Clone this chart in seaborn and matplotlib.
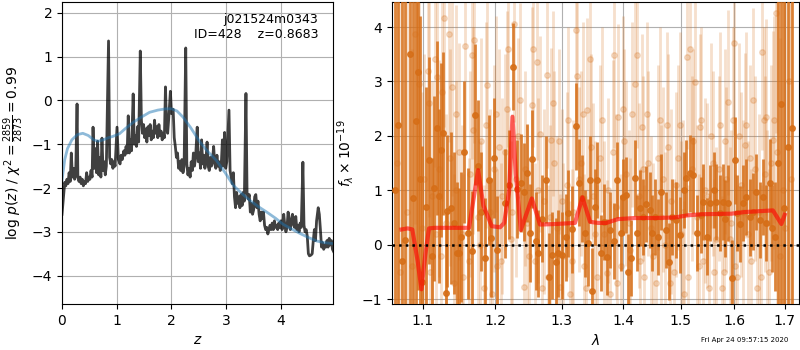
import matplotlib
matplotlib.use("Agg")
import matplotlib.pyplot as plt
import matplotlib.ticker as mticker
import seaborn as sns
import pandas as pd

# ---------------- left panel: log p(z) ----------------
z_grid = [0.00, 0.02, 0.04, 0.05, 0.07, 0.09, 0.11, 0.13, 0.15, 0.17, 0.19, 0.21, 0.23, 0.25, 0.275,
          0.29, 0.31, 0.33, 0.35, 0.37, 0.39, 0.41, 0.43, 0.45, 0.47, 0.49, 0.51, 0.53, 0.55, 0.567,
          0.59, 0.61, 0.63, 0.65, 0.67, 0.69, 0.71, 0.73, 0.75, 0.77, 0.79, 0.81, 0.85, 0.87, 0.89,
          0.91, 0.93, 0.95, 0.97, 1.005, 1.03, 1.06, 1.08, 1.10, 1.13, 1.15, 1.17, 1.19, 1.21, 1.23,
          1.25, 1.27, 1.30, 1.32, 1.34, 1.36, 1.38, 1.40, 1.43, 1.45, 1.47, 1.49, 1.51, 1.53, 1.55,
          1.57, 1.59, 1.61, 1.63, 1.65, 1.67, 1.69, 1.71, 1.73, 1.75, 1.77, 1.79, 1.81, 1.83, 1.85,
          1.87, 1.89, 1.91, 1.93, 1.95, 1.98, 2.00, 2.03, 2.05, 2.07, 2.09, 2.11, 2.13, 2.15, 2.17,
          2.19, 2.21, 2.23, 2.26, 2.28, 2.30, 2.32, 2.34, 2.36, 2.38, 2.40, 2.42, 2.44, 2.47, 2.49,
          2.51, 2.53, 2.55, 2.57, 2.59, 2.61, 2.63, 2.65, 2.67, 2.69, 2.71, 2.73, 2.75, 2.77, 2.79,
          2.81, 2.83, 2.85, 2.87, 2.89, 2.91, 2.93, 2.95, 2.97, 2.99, 3.01, 3.05, 3.07, 3.09, 3.11,
          3.13, 3.15, 3.17, 3.19, 3.21, 3.23, 3.25, 3.27, 3.29, 3.31, 3.33, 3.36, 3.38, 3.40, 3.42,
          3.44, 3.46, 3.48, 3.50, 3.52, 3.54, 3.56, 3.58, 3.60, 3.62, 3.64, 3.66, 3.68, 3.70, 3.72,
          3.74, 3.76, 3.78, 3.80, 3.82, 3.84, 3.86, 3.88, 3.90, 3.92, 3.94, 3.96, 3.98, 4.00, 4.02,
          4.05, 4.07, 4.09, 4.11, 4.13, 4.15, 4.17, 4.19, 4.21, 4.23, 4.25, 4.27, 4.29, 4.31, 4.33,
          4.35, 4.37, 4.40, 4.42, 4.44, 4.46, 4.48, 4.50, 4.52, 4.55, 4.57, 4.59, 4.61, 4.63, 4.65,
          4.68, 4.70, 4.72, 4.74, 4.76, 4.78, 4.80, 4.82, 4.84, 4.86, 4.88, 4.90, 4.92, 4.94, 4.96]
logpz = [-2.60, -2.30, -2.00, -1.87, -1.95, -1.80, -1.90, -1.65, -1.85, -1.20, -1.75, -1.55, -1.80, -1.70, -0.08,
         -1.75, -1.85, -1.75, -1.90, -1.80, -1.95, -1.85, -1.90, -1.65, -1.85, -1.75, -1.80, -1.60, -1.75, -0.61,
         -1.55, -1.10, -1.65, -0.93, -1.70, -1.30, -1.75, -0.86, -1.60, -1.40, -1.70, -1.50, 1.36, -1.30, -1.45,
         -1.35, -1.55, -1.40, -1.50, -0.61, -1.35, -1.45, -1.25, -1.35, -1.15, -1.25, -1.05, -1.20, -0.35, -1.20,
         -0.90, -1.15, 0.15, -1.00, -0.80, -1.05, -0.60, -0.95, 1.13, -0.45, -0.75, -0.55, -0.85, -0.65, -0.95,
         -0.60, -0.80, -0.55, -0.90, -0.70, -0.85, -0.45, -0.75, -0.60, -0.85, -0.55, -0.80, -0.70, -0.90, -0.75,
         -0.85, 0.31, -0.60, -0.75, -0.40, 0.21, -0.30, -0.20, -0.85, -1.05, -1.30, -1.20, -1.55, -1.40, -1.60,
         -1.35, -1.65, -1.50, 1.20, -1.45, -1.70, -1.55, -1.75, -1.40, -1.60, -1.20, -1.50, -1.30, -0.61, -1.40,
         -1.20, -1.55, -0.90, -1.45, -1.25, -1.55, -1.35, -0.95, -1.50, -1.60, -1.30, -1.50, -1.35, -1.05, -1.45,
         -1.55, -1.25, -1.50, -1.40, -1.60, -1.45, -0.90, -1.50, -0.73, -1.55, -1.40, -0.22, -1.60, -1.75, -1.90,
         -1.65, -2.20, -2.45, -2.10, -2.35, -2.20, -2.45, -2.15, -2.40, -2.10, -2.30, 0.16, -2.10, -2.25, -2.15,
         -2.55, -2.35, -2.60, -2.50, -2.20, -2.15, -2.45, -2.30, -2.60, -2.75, -2.55, -2.70, -2.55, -2.85, -2.95,
         -2.90, -3.05, -2.95, -2.85, -2.95, -2.80, -2.95, -2.75, -2.90, -2.85, -2.95, -2.80, -2.90, -2.75, -2.95,
         -2.60, -2.85, -3.00, -2.90, -2.55, -2.80, -2.95, -2.70, -2.60, -2.85, -2.90, -2.65, -2.95, -2.85, -3.00,
         -2.80, -2.90, -1.41, -2.85, -3.00, -2.95, -3.10, -3.50, -3.55, -3.53, -3.50, -3.20, -2.95, -3.20, -2.75,
         -2.45, -2.60, -2.95, -3.35, -3.25, -3.40, -3.30, -3.35, -3.20, -3.35, -3.15, -3.30, -3.20, -3.40, -3.45]

z_prior = [0.00, 0.05, 0.10, 0.18, 0.28, 0.38, 0.48, 0.58, 0.66, 0.75, 0.85, 0.93, 1.05, 1.15, 1.30,
           1.45, 1.60, 1.75, 1.90, 2.00, 2.10, 2.21, 2.35, 2.52, 2.65, 2.82, 2.98, 3.13, 3.28, 3.43,
           3.58, 3.74, 3.90, 4.04, 4.20, 4.35, 4.50, 4.65, 4.80, 4.96]
logp_prior = [-1.83, -1.35, -1.10, -0.90, -0.78, -0.75, -0.80, -0.90, -0.93, -0.90, -0.85, -0.82, -0.76, -0.65, -0.50,
              -0.38, -0.27, -0.22, -0.19, -0.19, -0.24, -0.38, -0.62, -0.95, -1.15, -1.37, -1.65, -1.94, -2.12, -2.28,
              -2.42, -2.55, -2.69, -2.83, -2.94, -3.04, -3.13, -3.21, -3.25, -3.27]

# ---------------- right panel: spectrum ----------------
wave_dark = [1.0640, 1.0680, 1.0720, 1.0765, 1.0824, 1.0869, 1.0903, 1.0929, 1.0955, 1.0982,
             1.1040, 1.1080, 1.1114, 1.1146, 1.1181, 1.1210, 1.1235, 1.1268, 1.1303, 1.1326,
             1.1371, 1.1417, 1.1463, 1.1486, 1.1522, 1.1564, 1.1615, 1.1671, 1.1718, 1.1755,
             1.1802, 1.1850, 1.1907, 1.1944, 1.1980, 1.2028, 1.2144, 1.2202, 1.2265, 1.2315,
             1.2379, 1.2429, 1.2464, 1.2514, 1.2549, 1.2600, 1.2639, 1.2691, 1.2757, 1.2803,
             1.2845, 1.2911, 1.2946, 1.3000, 1.3062, 1.3103, 1.3166, 1.3225, 1.3273, 1.3316,
             1.3368, 1.3411, 1.3450, 1.3487, 1.3530, 1.3557, 1.3633, 1.3677, 1.3732, 1.3772,
             1.3843, 1.3898, 1.3955, 1.3993, 1.4038, 1.4078, 1.4133, 1.4191, 1.4235, 1.4277,
             1.4334, 1.4391, 1.4449, 1.4494, 1.4536, 1.4594, 1.4652, 1.4730, 1.4783, 1.4841,
             1.4918, 1.4980, 1.5058, 1.5099, 1.5160, 1.5221, 1.5295, 1.5363, 1.5411, 1.5491,
             1.5535, 1.5616, 1.5660, 1.5722, 1.5786, 1.5817, 1.5881, 1.5958, 1.6009, 1.6061,
             1.6105, 1.6170, 1.6236, 1.6301, 1.6365, 1.6432, 1.6498, 1.6563, 1.6631, 1.6697,
             1.6735, 1.6797, 1.6860, 1.6918, 1.6986, 1.7060, 1.7150]
flux_dark = [1.00, 2.20, -0.30, 0.09, 3.51, 0.86, 2.27, 3.17, 1.20, -0.68,
             0.70, 1.55, -0.21, 1.04, 2.14, 0.90, 1.74, 2.05, -0.89, 0.62,
             0.67, 0.40, -0.15, -0.15, 0.14, 1.70, 0.21, -0.11, 2.39, 1.45,
             0.61, -0.25, 1.19, 0.13, 1.59, -0.10, 0.76, 1.10, 3.27, 1.02,
             1.14, 0.97, 1.31, 0.21, 1.57, 0.06, -0.16, 0.48, 1.19, -0.59,
             -0.19, -0.31, -0.16, -0.19, 0.14, 0.58, 0.28, 2.18, 1.14, 0.85,
             0.21, 0.04, 1.19, -0.86, 0.70, 1.19, -0.16, 0.42, -0.22, 0.27,
             0.07, 1.19, 0.21, 0.88, 0.91, -0.50, -0.25, 1.22, 0.21, 0.67,
             0.51, 0.75, 0.64, 0.21, 0.51, 0.14, 0.97, 0.27, -0.31, 0.51,
             0.45, 0.18, 1.00, 1.22, 1.31, 1.28, 0.21, 0.54, 0.79, 0.15,
             0.76, 1.00, 0.79, 0.58, 0.79, 0.48, 0.76, -0.62, 1.55, 0.58,
             0.38, 0.77, 0.88, 0.50, 0.61, 0.97, 0.45, 0.88, 0.40, 1.14,
             0.30, 0.15, 1.50, 2.58, 0.67, 1.80, 2.14]
err_dark = [6.0, 6.0, 5.5, 5.0, 5.0, 4.5, 4.5, 4.0, 3.0, 2.5,
            2.2, 1.9, 1.8, 1.7, 1.6, 1.6, 1.6, 1.5, 1.5, 1.4,
            1.4, 1.3, 1.3, 1.2, 1.2, 1.3, 1.2, 1.1, 1.3, 1.2,
            1.1, 1.1, 1.2, 1.1, 1.1, 1.0, 1.0, 1.0, 0.8, 0.9,
            0.9, 0.9, 0.9, 0.9, 0.9, 0.9, 0.8, 0.8, 0.8, 0.8,
            0.8, 0.8, 0.8, 0.8, 0.8, 0.8, 0.8, 0.8, 0.8, 0.8,
            0.8, 0.8, 0.8, 0.8, 0.7, 0.7, 0.7, 0.7, 0.7, 0.7,
            0.7, 0.7, 0.7, 0.7, 0.7, 0.7, 0.7, 0.7, 0.7, 0.7,
            0.7, 0.7, 0.7, 0.7, 0.7, 0.7, 0.7, 0.7, 0.7, 0.7,
            0.7, 0.7, 0.7, 0.7, 0.7, 0.7, 0.7, 0.7, 0.7, 0.7,
            0.7, 0.7, 0.7, 0.7, 0.7, 0.7, 0.7, 0.7, 0.8, 0.7,
            0.7, 0.7, 0.7, 0.7, 0.7, 0.7, 0.7, 0.7, 0.7, 0.8,
            0.8, 1.0, 4.0, 5.0, 5.0, 6.0, 6.0]

wave_light = [1.0660, 1.0700, 1.0790, 1.0860, 1.0899, 1.0942, 1.0985, 1.1020, 1.1061, 1.1100,
              1.1120, 1.1155, 1.1187, 1.1220, 1.1240, 1.1276, 1.1310, 1.1344, 1.1390, 1.1420,
              1.1450, 1.1481, 1.1530, 1.1574, 1.1620, 1.1640, 1.1667, 1.1704, 1.1750, 1.1800,
              1.1840, 1.1888, 1.1930, 1.1980, 1.2030, 1.2061, 1.2100, 1.2140, 1.2192, 1.2230,
              1.2276, 1.2310, 1.2369, 1.2420, 1.2470, 1.2540, 1.2564, 1.2590, 1.2615, 1.2666,
              1.2720, 1.2768, 1.2790, 1.2834, 1.2880, 1.2920, 1.2973, 1.3020, 1.3080, 1.3130,
              1.3180, 1.3220, 1.3246, 1.3300, 1.3350, 1.3405, 1.3449, 1.3500, 1.3560, 1.3620,
              1.3680, 1.3724, 1.3780, 1.3846, 1.3880, 1.3918, 1.3960, 1.3992, 1.4050, 1.4120,
              1.4202, 1.4231, 1.4260, 1.4317, 1.4360, 1.4420, 1.4480, 1.4560, 1.4629, 1.4680,
              1.4720, 1.4777, 1.4830, 1.4880, 1.4950, 1.5010, 1.5060, 1.5112, 1.5167, 1.5200,
              1.5258, 1.5300, 1.5350, 1.5400, 1.5450, 1.5520, 1.5600, 1.5650, 1.5725, 1.5800,
              1.5850, 1.5883, 1.5940, 1.5998, 1.6050, 1.6120, 1.6204, 1.6260, 1.6300, 1.6366,
              1.6440, 1.6480, 1.6551, 1.6600, 1.6630, 1.6690, 1.6762, 1.6816, 1.6850, 1.6900,
              1.6960, 1.7000, 1.7080, 1.7120,
              1.1080, 1.1170, 1.1260, 1.1360, 1.1440, 1.1550, 1.1690, 1.1780, 1.1870, 1.1960,
              1.2010, 1.2080, 1.2170, 1.2250, 1.2340, 1.2440, 1.2500, 1.2640, 1.2700, 1.2810,
              1.2860, 1.2950, 1.3000, 1.3100, 1.3160, 1.3270, 1.3330, 1.3380, 1.3470, 1.3530,
              1.3650, 1.3750, 1.3820, 1.3900, 1.4010, 1.4090, 1.4150, 1.4290, 1.4340, 1.4400,
              1.4500, 1.4600, 1.4650, 1.4750, 1.4800, 1.4910, 1.4990, 1.5040, 1.5140, 1.5230,
              1.5330, 1.5380, 1.5480, 1.5550, 1.5620, 1.5700, 1.5760, 1.5830, 1.5910, 1.5970,
              1.6020, 1.6090, 1.6160, 1.6230, 1.6330, 1.6400, 1.6520, 1.6580, 1.6650, 1.6720,
              1.6790]
flux_light = [1.50, -0.50, 0.60, -0.40, 3.88, 2.96, 0.30, 1.20, 3.19, -0.50,
              0.90, 3.42, 3.08, 1.40, -0.20, 4.17, 0.40, 3.88, 2.89, -0.70,
              1.00, 1.71, 0.20, 3.66, -0.30, 1.30, 3.48, 3.76, 0.50, 1.90,
              -0.80, 2.93, 0.60, 1.40, -0.40, 1.80, 0.90, 1.70, 3.60, 0.10,
              4.06, 1.20, 2.65, -0.77, 0.40, 2.56, 3.60, -0.30, 3.36, 2.04,
              0.80, 3.11, -0.60, 1.92, 1.50, 0.30, -0.77, -0.20, 1.10, -0.90,
              0.60, 3.95, 3.10, 1.50, -0.40, 2.47, 3.42, 0.90, -0.60, 1.60,
              0.20, -0.52, -0.90, 3.48, 0.70, 2.35, -0.40, 2.50, 1.30, -0.10,
              2.96, 3.48, 0.90, 2.17, -0.60, 1.50, 0.30, -0.70, 2.30, 1.20,
              0.00, 1.80, 0.80, -0.50, 1.60, 0.20, -0.90, 3.45, 3.60, 1.40,
              2.99, 0.50, 2.17, -0.30, 1.00, -0.80, 1.50, 0.10, 2.20, -0.50,
              1.20, 2.62, 0.40, 3.71, -0.60, 1.10, 1.83, 0.20, 1.60, 2.65,
              -0.80, 0.60, 3.54, 1.30, 2.35, -0.50, 1.92, 4.25, 1.70, -0.20,
              1.00, 0.30, 3.00, 1.20,
              2.60, 0.20, 2.80, 1.60, 2.40, -0.60, 2.10, 0.00, 2.20, -0.90,
              2.40, -0.30, 2.50, 0.60, 2.00, 1.40, -0.20, 1.00, -0.80, 0.50,
              2.60, 1.90, 0.80, 2.30, -0.30, 1.20, 2.40, -0.80, 1.80, 0.20,
              2.30, 1.00, 1.70, -0.70, 1.90, 0.40, 2.40, -0.30, 1.40, 2.40,
              -0.20, 1.60, 0.50, 2.20, -0.70, 1.10, 2.20, 0.60, -0.60, 1.90,
              -0.40, 2.30, 0.90, 2.00, -0.50, 1.40, -0.80, 1.90, 0.10, 2.30,
              -0.40, 2.00, 0.60, 2.20, -0.30, 1.40, -0.60, 2.30, 0.40, 1.50,
              2.30]
err_light = [5.0, 5.0, 4.5, 4.0, 3.5, 3.0, 2.5, 2.3, 2.2, 2.1,
             2.1, 2.0, 2.0, 2.0, 2.0, 2.0, 2.0, 2.0, 2.0, 2.0,
             2.0, 2.0, 2.0, 2.0, 1.9, 1.9, 1.9, 1.9, 1.9, 1.9,
             1.9, 1.9, 1.9, 1.9, 1.8, 1.8, 1.8, 1.8, 1.8, 1.8,
             1.8, 1.8, 1.8, 1.8, 1.8, 1.8, 1.8, 1.8, 1.8, 1.8,
             1.7, 1.7, 1.7, 1.7, 1.7, 1.7, 1.7, 1.7, 1.7, 1.7,
             1.7, 1.7, 1.7, 1.7, 1.7, 1.7, 1.7, 1.7, 1.7, 1.7,
             1.7, 1.7, 1.7, 1.7, 1.7, 1.7, 1.7, 1.7, 1.7, 1.7,
             1.7, 1.7, 1.7, 1.7, 1.7, 1.7, 1.7, 1.7, 1.7, 1.7,
             1.7, 1.7, 1.7, 1.7, 1.7, 1.7, 1.7, 1.7, 1.7, 1.7,
             1.7, 1.7, 1.7, 1.7, 1.7, 1.7, 1.7, 1.7, 1.7, 1.7,
             1.7, 1.7, 1.7, 1.7, 1.7, 1.7, 1.7, 1.7, 1.7, 1.7,
             1.8, 1.8, 1.8, 1.8, 1.8, 1.9, 2.0, 2.2, 3.0, 4.0,
             5.0, 5.0, 6.0, 6.0,
             2.1, 2.0, 2.0, 2.0, 2.0, 1.9, 1.9, 1.9, 1.9, 1.9,
             1.8, 1.8, 1.8, 1.8, 1.8, 1.8, 1.8, 1.7, 1.7, 1.7,
             1.7, 1.7, 1.7, 1.7, 1.7, 1.7, 1.7, 1.7, 1.7, 1.7,
             1.7, 1.7, 1.7, 1.7, 1.7, 1.7, 1.7, 1.7, 1.7, 1.7,
             1.7, 1.7, 1.7, 1.7, 1.7, 1.7, 1.7, 1.7, 1.7, 1.7,
             1.7, 1.7, 1.7, 1.7, 1.7, 1.7, 1.7, 1.7, 1.7, 1.7,
             1.7, 1.7, 1.7, 1.7, 1.7, 1.7, 1.7, 1.7, 1.7, 1.8,
             1.9]

wave_model = [1.0720, 1.0800, 1.0860, 1.0930, 1.0980, 1.1030, 1.1080, 1.1160, 1.1400, 1.1627,
              1.1755, 1.1830, 1.1950, 1.2070, 1.2130, 1.2203, 1.2251, 1.2300, 1.2375, 1.2540,
              1.2664, 1.2900, 1.3209, 1.3327, 1.3450, 1.3579, 1.3716, 1.3910, 1.4190, 1.4540,
              1.4890, 1.5130, 1.5400, 1.5946, 1.6200, 1.6760, 1.6932, 1.7000]
flux_model = [0.28, 0.30, 0.28, -0.30, -0.82, -0.20, 0.30, 0.31, 0.31, 0.31,
              1.37, 0.72, 0.34, 0.32, 0.40, 1.00, 2.35, 1.30, 0.27, 0.85,
              0.37, 0.38, 0.40, 0.87, 0.42, 0.40, 0.40, 0.47, 0.49, 0.49,
              0.50, 0.54, 0.56, 0.57, 0.60, 0.63, 0.38, 0.55]

xticks_wave = [1.1, 1.2, 1.3, 1.4, 1.5, 1.6, 1.7]

pz_df = pd.DataFrame({"z": z_grid, "logp": logpz})
prior_df = pd.DataFrame({"z": z_prior, "logp": logp_prior})
model_df = pd.DataFrame({"wave": wave_model, "flux": flux_model})

fig = plt.figure(figsize=(8, 3.5), dpi=100)
ax1 = fig.add_axes([0.0775, 0.1314, 0.33875, 0.8629])
ax2 = fig.add_axes([0.49, 0.1314, 0.50875, 0.8629])

# left
sns.lineplot(data=pz_df, x="z", y="logp", ax=ax1, color="k", alpha=0.75, lw=2,
             sort=False, estimator=None)
sns.lineplot(data=prior_df, x="z", y="logp", ax=ax1, color="tab:blue", alpha=0.5, lw=2,
             sort=False, estimator=None)
ax1.set_xlim(0, 4.95)
ax1.set_ylim(-4.65, 2.25)
ax1.set_xticks([0, 1, 2, 3, 4])
ax1.set_yticks([-4, -3, -2, -1, 0, 1, 2])
ax1.grid(True, color="#b0b0b0", lw=0.8)
ax1.set_axisbelow(True)
ax1.set_xlabel(r"$z$", fontsize=10)
ax1.set_ylabel(r"log $p(z)$ / $\chi^2=\frac{2859}{2873}=0.99$", fontsize=10)
ax1.text(0.945, 0.965, "j021524m0343\nID=428    z=0.8683", transform=ax1.transAxes,
         ha="right", va="top", fontsize=9)

# right
orange = (0.84, 0.43, 0.09)
ax2.errorbar(wave_light, flux_light, yerr=err_light, fmt="o", color=orange, ecolor=orange,
             alpha=0.22, ms=4, elinewidth=2.0, capsize=0, zorder=2)
ax2.errorbar(wave_dark, flux_dark, yerr=err_dark, fmt="o", color=orange, ecolor=orange,
             alpha=0.85, ms=4, elinewidth=2.0, capsize=0, zorder=3)
sns.lineplot(data=model_df, x="wave", y="flux", ax=ax2, color="red", alpha=0.6, lw=3,
             sort=False, estimator=None, zorder=4)
ax2.axhline(0, color="k", ls=":", lw=1.8, zorder=5)
ax2.set_xscale("log")
ax2.set_xlim(1.0598, 1.7295)
ax2.set_ylim(-1.09, 4.46)
ax2.xaxis.set_major_locator(mticker.FixedLocator(xticks_wave))
ax2.xaxis.set_major_formatter(mticker.FormatStrFormatter("%.1f"))
ax2.xaxis.set_minor_locator(mticker.NullLocator())
ax2.set_yticks([-1, 0, 1, 2, 3, 4])
ax2.grid(True, color="#b0b0b0", lw=0.8)
ax2.set_axisbelow(True)
ax2.set_xlabel(r"$\lambda$", fontsize=10)
ax2.set_ylabel(r"$f_\lambda \times 10^{-19}$", fontsize=10)

fig.text(0.985, 0.028, "Fri Apr 24 09:57:15 2020", fontsize=5, ha="right", va="center")

fig.savefig("out.png", dpi=100)
